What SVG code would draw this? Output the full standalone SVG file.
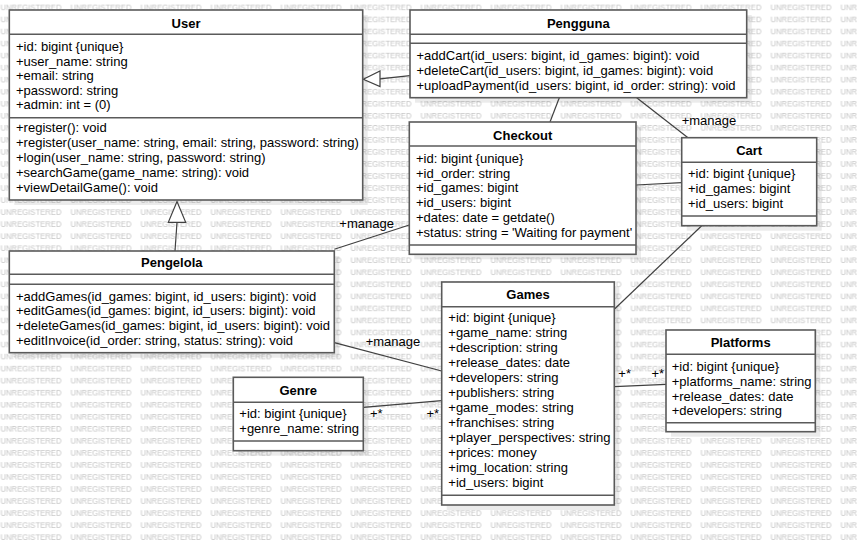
<svg xmlns="http://www.w3.org/2000/svg" width="857" height="545" viewBox="0 0 857 545">
<style>
.box{fill:#fff;stroke:#5a5a5a;stroke-width:1.6}
.sep{stroke:#5a5a5a;stroke-width:1.6}
.sh{fill:#000;opacity:0.08}
.t{font-family:"Liberation Sans",Arial,sans-serif;font-size:13px;fill:#000}
.h{font-family:"Liberation Sans",Arial,sans-serif;font-size:13px;font-weight:bold;fill:#000;text-anchor:middle}
.ln{stroke:#404040;stroke-width:1.2;fill:none}
.tri{fill:#fff;stroke:#404040;stroke-width:1.2}
.wm{font-family:"Liberation Sans",Arial,sans-serif;font-size:9px;fill:#c4c4c4}
</style>
<defs>
<pattern id="wm" patternUnits="userSpaceOnUse" x="0.5" y="0" width="70" height="12.04">
<text class="wm" x="0" y="10.5" textLength="61" lengthAdjust="spacingAndGlyphs">UNREGISTERED</text>
</pattern>
</defs>
<rect width="857" height="545" fill="#fff"/>
<rect width="857" height="545" fill="url(#wm)"/>

<g id="shadows">
<rect class="sh" x="14.3" y="15" width="353.4" height="190"/>
<rect class="sh" x="415" y="15" width="336.7" height="87.7"/>
<rect class="sh" x="414.3" y="127" width="226.7" height="132.3"/>
<rect class="sh" x="686.7" y="142.7" width="135" height="88"/>
<rect class="sh" x="14.3" y="256" width="325" height="101.7"/>
<rect class="sh" x="446.7" y="287" width="172.6" height="223"/>
<rect class="sh" x="238.3" y="382.3" width="130" height="73.4"/>
<rect class="sh" x="671" y="335" width="149.3" height="101.7"/>
</g>

<g id="connectors">
<line class="ln" x1="410" y1="75.7" x2="380" y2="78.8"/>
<polygon class="tri" points="363.3,79.3 380,71 380,86.5"/>
<line class="ln" x1="175" y1="251" x2="177" y2="222.3"/>
<polygon class="tri" points="177,201.5 168.3,222.3 185.7,222.3"/>
<line class="ln" x1="559.3" y1="97.7" x2="550" y2="122"/>
<line class="ln" x1="636.7" y1="97.7" x2="688" y2="137.7"/>
<text class="t" x="681.7" y="124.5">+manage</text>
<line class="ln" x1="636" y1="185" x2="681.7" y2="182.7"/>
<line class="ln" x1="701.7" y1="225.7" x2="614.3" y2="309.3"/>
<line class="ln" x1="334.3" y1="249.3" x2="409.3" y2="225"/>
<text class="t" x="339.3" y="227.8">+manage</text>
<line class="ln" x1="334.3" y1="342.7" x2="441.7" y2="371"/>
<text class="t" x="365.7" y="345.5">+manage</text>
<line class="ln" x1="363.3" y1="407.3" x2="441.7" y2="400.7"/>
<text class="t" x="370" y="418">+*</text>
<text class="t" x="426.5" y="418">+*</text>
<line class="ln" x1="614.3" y1="386.7" x2="666" y2="384.3"/>
<text class="t" x="618.3" y="378">+*</text>
<text class="t" x="651.5" y="378">+*</text>
</g>

<g id="User">
<rect class="box" x="9.3" y="10" width="353.4" height="190"/>
<line class="sep" x1="9.3" y1="34.3" x2="362.7" y2="34.3"/>
<line class="sep" x1="9.3" y1="117.7" x2="362.7" y2="117.7"/>
<text class="h" x="186" y="27.5">User</text>
<text class="t" x="16" y="51.2">+id: bigint {unique}</text>
<text class="t" x="16" y="65.6">+user_name: string</text>
<text class="t" x="16" y="80">+email: string</text>
<text class="t" x="16" y="94.5">+password: string</text>
<text class="t" x="16" y="108.9">+admin: int = (0)</text>
<text class="t" x="16" y="132.2">+register(): void</text>
<text class="t" x="16" y="147.2">+register(user_name: string, email: string, password: string)</text>
<text class="t" x="16" y="162.2">+login(user_name: string, password: string)</text>
<text class="t" x="16" y="177.2">+searchGame(game_name: string): void</text>
<text class="t" x="16" y="192.2">+viewDetailGame(): void</text>
</g>

<g id="Pengguna">
<rect class="box" x="410" y="10" width="336.7" height="87.7"/>
<line class="sep" x1="410" y1="34.3" x2="746.7" y2="34.3"/>
<line class="sep" x1="410" y1="43.3" x2="746.7" y2="43.3"/>
<text class="h" x="578.3" y="27.5">Pengguna</text>
<text class="t" x="416.5" y="59.5">+addCart(id_users: bigint, id_games: bigint): void</text>
<text class="t" x="416.5" y="75">+deleteCart(id_users: bigint, id_games: bigint): void</text>
<text class="t" x="416.5" y="90">+uploadPayment(id_users: bigint, id_order: string): void</text>
</g>

<g id="Checkout">
<rect class="box" x="409.3" y="122" width="226.7" height="132.3"/>
<line class="sep" x1="409.3" y1="146" x2="636" y2="146"/>
<line class="sep" x1="409.3" y1="245" x2="636" y2="245"/>
<text class="h" x="522.7" y="139.5">Checkout</text>
<text class="t" x="416" y="162.8">+id: bigint {unique}</text>
<text class="t" x="416" y="177.6">+id_order: string</text>
<text class="t" x="416" y="192.4">+id_games: bigint</text>
<text class="t" x="416" y="207.2">+id_users: bigint</text>
<text class="t" x="416" y="222">+dates: date = getdate()</text>
<text class="t" x="416" y="236.8">+status: string = 'Waiting for payment'</text>
</g>

<g id="Cart">
<rect class="box" x="681.7" y="137.7" width="135" height="88"/>
<line class="sep" x1="681.7" y1="162.3" x2="816.7" y2="162.3"/>
<line class="sep" x1="681.7" y1="216" x2="816.7" y2="216"/>
<text class="h" x="749.2" y="155.2">Cart</text>
<text class="t" x="688" y="177.8">+id: bigint {unique}</text>
<text class="t" x="688" y="192.8">+id_games: bigint</text>
<text class="t" x="688" y="207.8">+id_users: bigint</text>
</g>

<g id="Pengelola">
<rect class="box" x="9.3" y="251" width="325" height="101.7"/>
<line class="sep" x1="9.3" y1="274.3" x2="334.3" y2="274.3"/>
<line class="sep" x1="9.3" y1="284.3" x2="334.3" y2="284.3"/>
<text class="h" x="171.8" y="266.5">Pengelola</text>
<text class="t" x="16" y="300.5">+addGames(id_games: bigint, id_users: bigint): void</text>
<text class="t" x="16" y="315.2">+editGames(id_games: bigint, id_users: bigint): void</text>
<text class="t" x="16" y="329.9">+deleteGames(id_games: bigint, id_users: bigint): void</text>
<text class="t" x="16" y="344.6">+editInvoice(id_order: string, status: string): void</text>
</g>

<g id="Games">
<rect class="box" x="441.7" y="282" width="172.6" height="223"/>
<line class="sep" x1="441.7" y1="306.7" x2="614.3" y2="306.7"/>
<line class="sep" x1="441.7" y1="495.3" x2="614.3" y2="495.3"/>
<text class="h" x="528" y="298.5">Games</text>
<text class="t" x="448.3" y="322.2">+id: bigint {unique}</text>
<text class="t" x="448.3" y="337.2">+game_name: string</text>
<text class="t" x="448.3" y="352.2">+description: string</text>
<text class="t" x="448.3" y="367.2">+release_dates: date</text>
<text class="t" x="448.3" y="382.2">+developers: string</text>
<text class="t" x="448.3" y="397.2">+publishers: string</text>
<text class="t" x="448.3" y="412.2">+game_modes: string</text>
<text class="t" x="448.3" y="427.2">+franchises: string</text>
<text class="t" x="448.3" y="442.2">+player_perspectives: string</text>
<text class="t" x="448.3" y="457.2">+prices: money</text>
<text class="t" x="448.3" y="472.2">+img_location: string</text>
<text class="t" x="448.3" y="487.2">+id_users: bigint</text>
</g>

<g id="Genre">
<rect class="box" x="233.3" y="377.3" width="130" height="73.4"/>
<line class="sep" x1="233.3" y1="402.3" x2="363.3" y2="402.3"/>
<line class="sep" x1="233.3" y1="441" x2="363.3" y2="441"/>
<text class="h" x="298.3" y="394.5">Genre</text>
<text class="t" x="239.3" y="417.8">+id: bigint {unique}</text>
<text class="t" x="239.3" y="432.8">+genre_name: string</text>
</g>

<g id="Platforms">
<rect class="box" x="666" y="330" width="149.3" height="101.7"/>
<line class="sep" x1="666" y1="354.3" x2="815.3" y2="354.3"/>
<line class="sep" x1="666" y1="422.7" x2="815.3" y2="422.7"/>
<text class="h" x="740.7" y="347.2">Platforms</text>
<text class="t" x="671.7" y="371.2">+id: bigint {unique}</text>
<text class="t" x="671.7" y="386">+platforms_name: string</text>
<text class="t" x="671.7" y="400.6">+release_dates: date</text>
<text class="t" x="671.7" y="415.2">+developers: string</text>
</g>
</svg>
